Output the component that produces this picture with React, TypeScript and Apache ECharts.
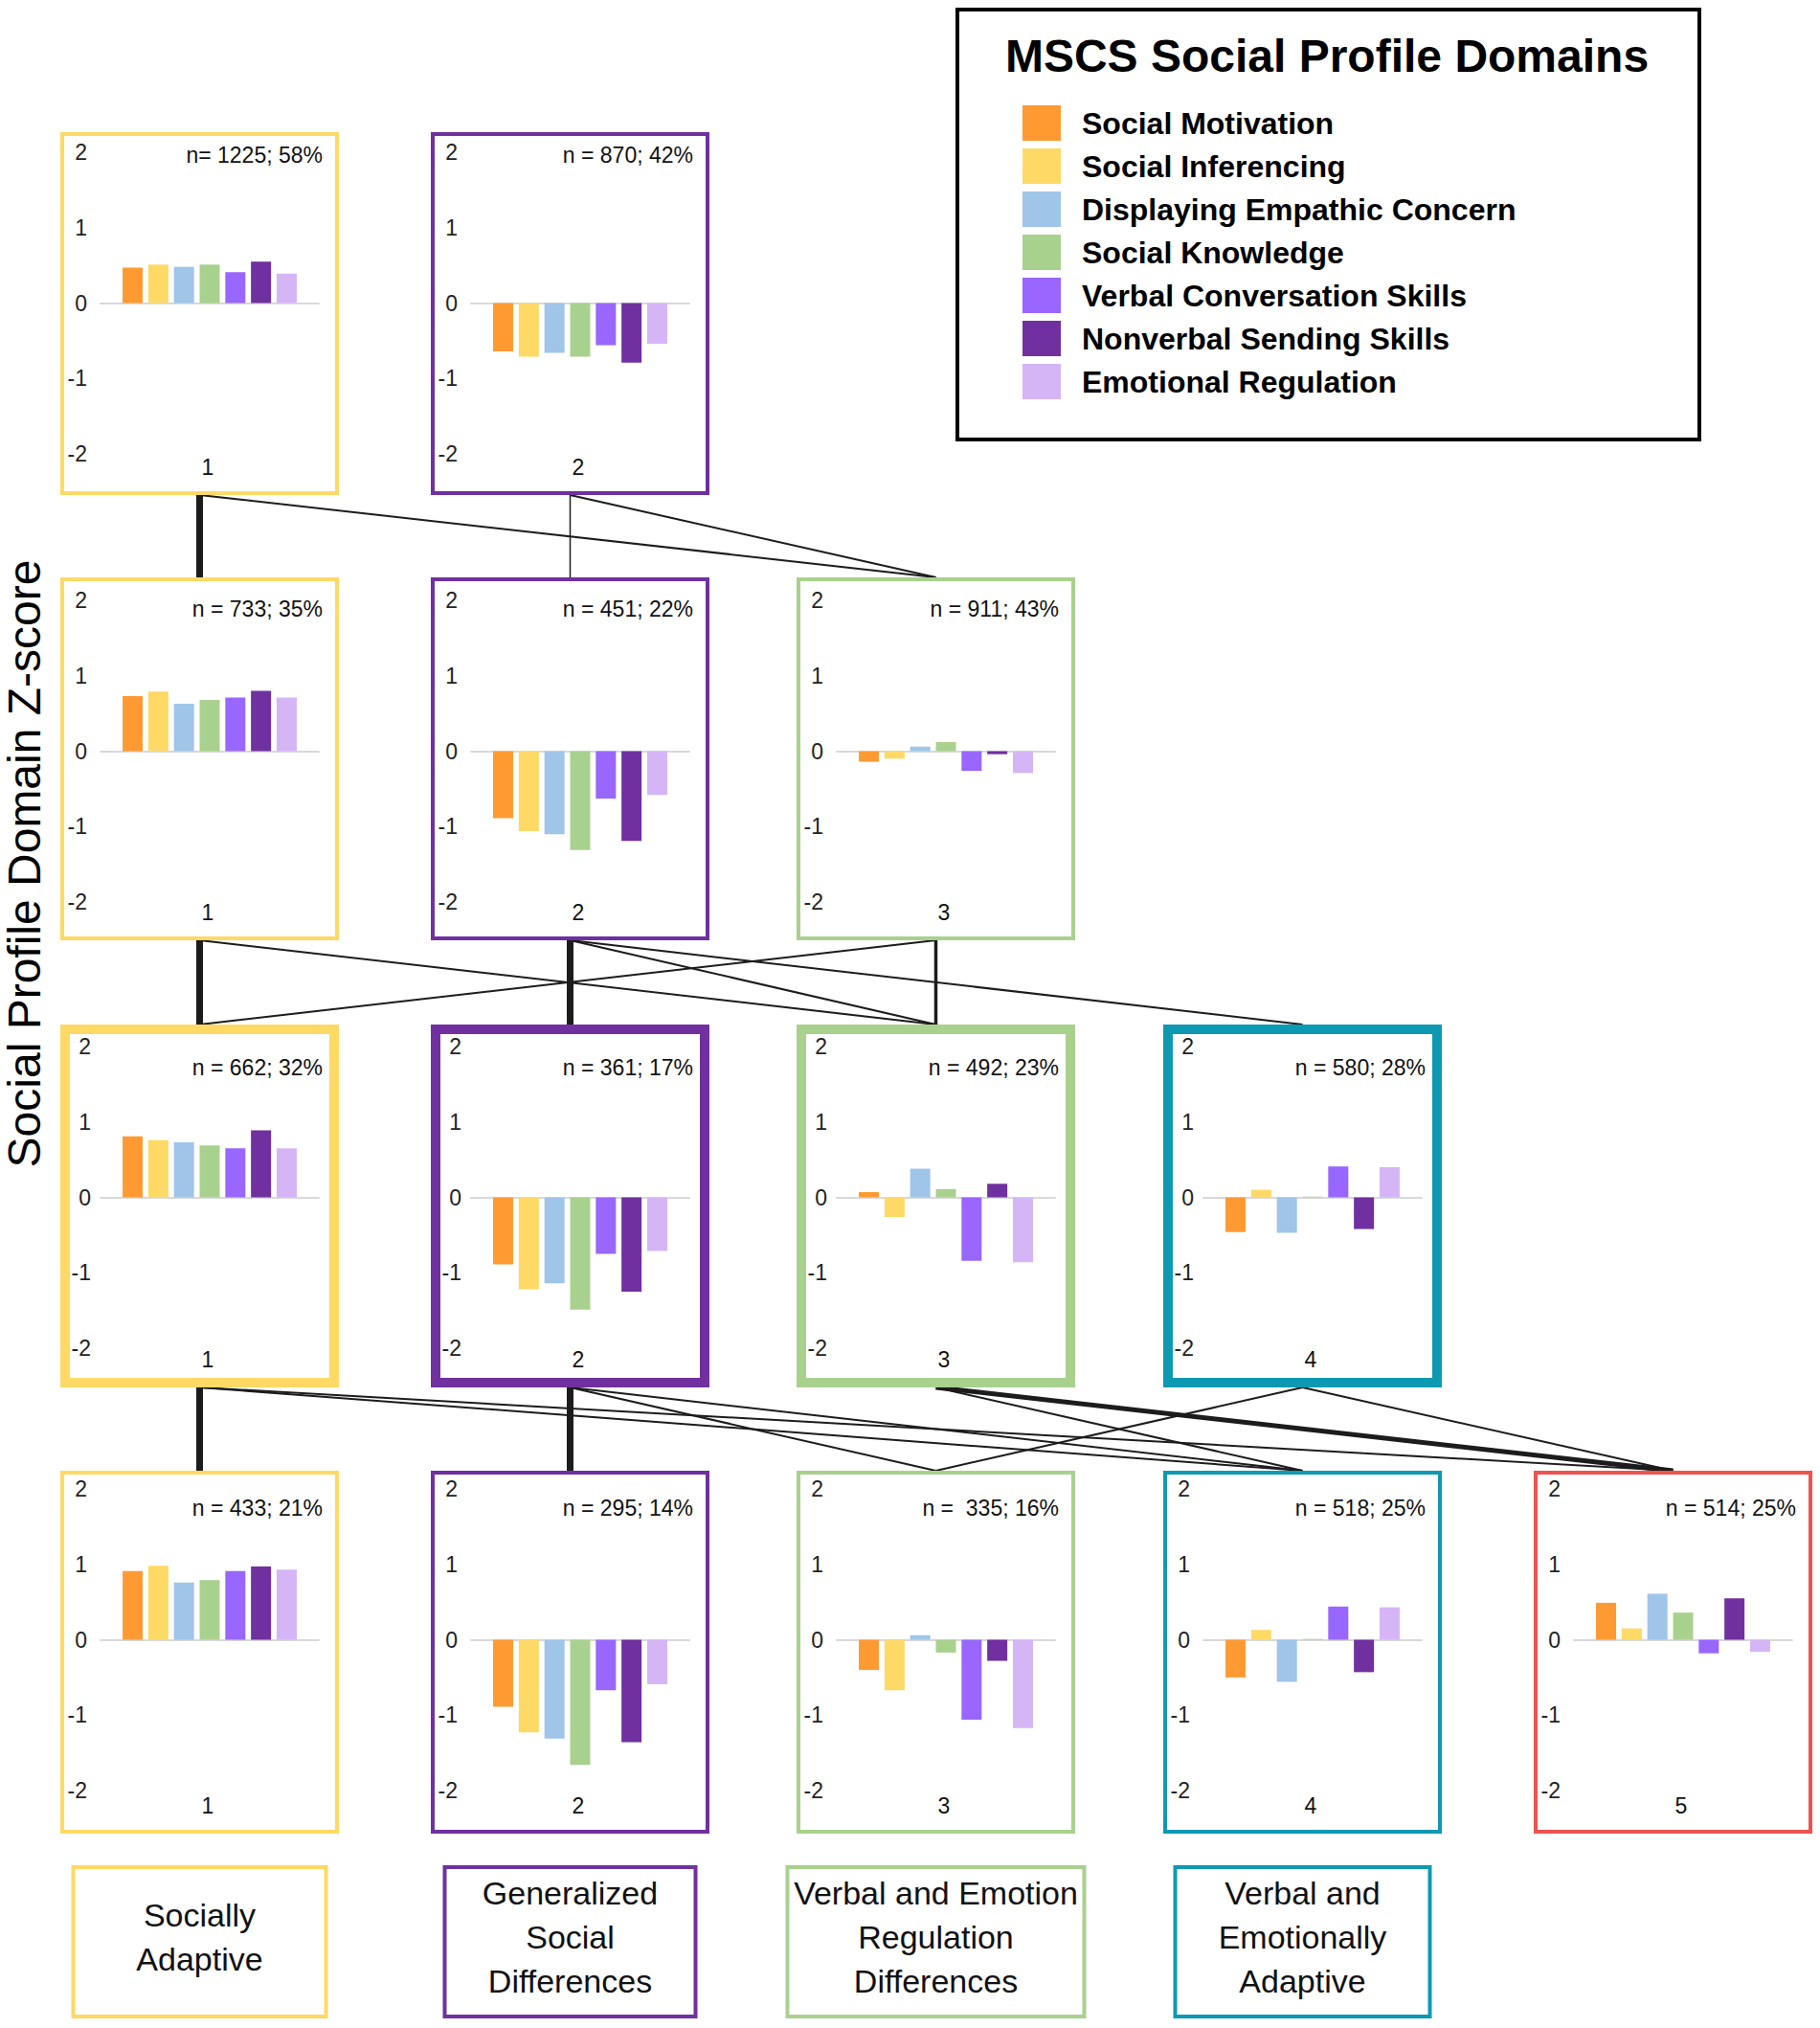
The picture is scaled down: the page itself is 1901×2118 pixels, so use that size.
import React, { useEffect, useRef } from 'react';
import * as echarts from 'echarts';

const FONT = '"Liberation Sans", Arial, Helvetica, sans-serif';

// Domains (series) and their colours
const domains = [
  'Social Motivation',
  'Social Inferencing',
  'Displaying Empathic Concern',
  'Social Knowledge',
  'Verbal Conversation Skills',
  'Nonverbal Sending Skills',
  'Emotional Regulation',
];
const domainColors = ['#FF9A33', '#FFD966', '#9FC5E8', '#A9D18E', '#9966FF', '#7030A0', '#D6B5F7'];
const clusterColors = ['#FFD966', '#7030A0', '#A9D18E', '#0E99B3', '#EF5350'];

// Z-scores per cluster, per solution (2 to 5 classes)
const twoClass1 = [0.47, 0.51, 0.48, 0.51, 0.41, 0.55, 0.39];
const twoClass2 = [-0.64, -0.71, -0.66, -0.71, -0.56, -0.79, -0.54];

const threeClass1 = [0.73, 0.79, 0.63, 0.68, 0.71, 0.8, 0.71];
const threeClass2 = [-0.89, -1.06, -1.1, -1.31, -0.63, -1.19, -0.58];
const threeClass3 = [-0.14, -0.1, 0.06, 0.12, -0.26, -0.04, -0.29];

const fourClass1 = [0.81, 0.76, 0.73, 0.69, 0.65, 0.89, 0.65];
const fourClass2 = [-0.89, -1.22, -1.14, -1.49, -0.75, -1.25, -0.71];
const fourClass3 = [0.07, -0.26, 0.38, 0.11, -0.84, 0.18, -0.86];
const fourClass4 = [-0.46, 0.1, -0.47, 0.01, 0.41, -0.42, 0.4];

const fiveClass1 = [0.91, 0.98, 0.76, 0.79, 0.91, 0.97, 0.93];
const fiveClass2 = [-0.89, -1.23, -1.31, -1.66, -0.67, -1.36, -0.59];
const fiveClass3 = [-0.4, -0.67, 0.06, -0.17, -1.06, -0.28, -1.17];
const fiveClass4 = [-0.5, 0.13, -0.56, 0.01, 0.44, -0.43, 0.43];
const fiveClass5 = [0.49, 0.15, 0.61, 0.36, -0.18, 0.55, -0.16];

const solutions = [
  [twoClass1, twoClass2],
  [threeClass1, threeClass2, threeClass3],
  [fourClass1, fourClass2, fourClass3, fourClass4],
  [fiveClass1, fiveClass2, fiveClass3, fiveClass4, fiveClass5],
];

const twoClassN = ['n= 1225; 58%', 'n = 870; 42%'];
const threeClassN = ['n = 733; 35%', 'n = 451; 22%', 'n = 911; 43%'];
const fourClassN = ['n = 662; 32%', 'n = 361; 17%', 'n = 492; 23%', 'n = 580; 28%'];
const fiveClassN = ['n = 433; 21%', 'n = 295; 14%', 'n =  335; 16%', 'n = 518; 25%', 'n = 514; 25%'];
const sampleLabels = [twoClassN, threeClassN, fourClassN, fiveClassN];

const yTicks = [-2, 2, 1];

// Transitions between solutions: [from solution, from cluster, to cluster, weight]
const transitions = [
  [0, 0, 0, 'heavy'], [0, 0, 2, 'light'], [0, 1, 1, 'faint'], [0, 1, 2, 'light'],
  [1, 0, 0, 'heavy'], [1, 0, 2, 'light'], [1, 1, 1, 'heavy'], [1, 1, 2, 'light'], [1, 1, 3, 'light'],
  [1, 2, 0, 'light'], [1, 2, 2, 'medium'],
  [2, 0, 0, 'heavy'], [2, 0, 3, 'light'], [2, 0, 4, 'light'], [2, 1, 1, 'heavy'], [2, 1, 2, 'light'],
  [2, 1, 3, 'light'], [2, 2, 3, 'light'], [2, 2, 4, 'strong'], [2, 3, 2, 'light'], [2, 3, 4, 'light'],
];

const profileNames = [
  'Socially\nAdaptive',
  'Generalized\nSocial\nDifferences',
  'Verbal and Emotion\nRegulation\nDifferences',
  'Verbal and\nEmotionally\nAdaptive',
];

const legendTitle = 'MSCS Social Profile Domains';
const yAxisTitle = 'Social Profile Domain Z-score';

// ---------- layout (positions / styles) ----------
const COL_X = [63, 450, 832, 1215, 1602];
const ROW_Y = [138, 603, 1070, 1536];
const BOX_W = 291;
const BOX_H = 379;
const ROW_BORDER = [4, 4, 10, 4];
const GRID_TOP_OFF = [21, 24, 23, 19];
const N_LABEL_OFF = [24, 33, 45, 39];
const LABEL_MARGIN = [14, 14, 10, 14];
const LINE_W: Record<string, number> = { heavy: 7, strong: 5, medium: 3.5, light: 2, faint: 1.5 };
const PROFILE_W = [268, 266, 314, 270];

function buildOption() {
  const grid: any[] = [];
  const xAxis: any[] = [];
  const yAxis: any[] = [];
  const series: any[] = [];
  const graphic: any[] = [];
  let gi = 0;

  const centerX = (c: number) => COL_X[c] + BOX_W / 2;

  transitions.forEach(([r, a, b, w]: any) => {
    graphic.push({
      type: 'line',
      z: 1,
      shape: { x1: centerX(a), y1: ROW_Y[r] + BOX_H, x2: centerX(b), y2: ROW_Y[r + 1] },
      style: { stroke: '#1c1c1c', lineWidth: LINE_W[w] },
    });
  });

  solutions.forEach((panels, r) => {
    panels.forEach((vals, c) => {
      const L = COL_X[c];
      const T = ROW_Y[r];
      grid.push({ left: L + 42, top: T + GRID_TOP_OFF[r], width: 228, height: 315 });
      xAxis.push({
        gridIndex: gi,
        type: 'value',
        min: -0.25,
        max: 8.25,
        axisLabel: { show: false },
        axisTick: { show: false },
        splitLine: { show: false },
        axisLine: { show: true, onZero: true, lineStyle: { color: '#d9d9d9', width: 2 } },
      });
      yAxis.push({
        gridIndex: gi,
        type: 'value',
        min: yTicks[0],
        max: yTicks[1],
        interval: yTicks[2],
        axisLine: { show: false, onZero: false },
        axisTick: { show: false },
        splitLine: { show: false },
        axisLabel: { fontSize: 23, color: '#222', fontFamily: FONT, margin: LABEL_MARGIN[r] },
      });
      vals.forEach((v, j) => {
        series.push({
          type: 'bar',
          name: domains[j],
          xAxisIndex: gi,
          yAxisIndex: gi,
          data: [[j + 1, v]],
          barWidth: 21,
          barGap: '-100%',
          itemStyle: { color: domainColors[j] },
          silent: true,
        });
      });
      const bw = ROW_BORDER[r];
      graphic.push({
        type: 'rect',
        z: 10,
        shape: { x: L + bw / 2, y: T + bw / 2, width: BOX_W - bw, height: BOX_H - bw },
        style: { fill: 'rgba(0,0,0,0)', stroke: clusterColors[c], lineWidth: bw },
      });
      graphic.push({
        type: 'text',
        z: 11,
        x: L + 274,
        y: T + N_LABEL_OFF[r],
        style: {
          text: sampleLabels[r][c],
          fontSize: 23,
          fontFamily: FONT,
          fill: '#111',
          align: 'right',
          textAlign: 'right',
          verticalAlign: 'middle',
          textVerticalAlign: 'middle',
        },
      });
      graphic.push({
        type: 'text',
        z: 11,
        x: L + 154,
        y: T + 350,
        style: {
          text: String(c + 1),
          fontSize: 23,
          fontFamily: FONT,
          fill: '#111',
          align: 'center',
          textAlign: 'center',
          verticalAlign: 'middle',
          textVerticalAlign: 'middle',
        },
      });
      gi++;
    });
  });

  // legend box + title
  graphic.push({
    type: 'rect',
    z: 10,
    shape: { x: 1000, y: 10, width: 775, height: 449 },
    style: { fill: 'rgba(0,0,0,0)', stroke: '#000', lineWidth: 4 },
  });
  graphic.push({
    type: 'text',
    z: 11,
    x: 1386,
    y: 58,
    style: {
      text: legendTitle,
      fontSize: 48,
      fontWeight: 'bold',
      fontFamily: FONT,
      fill: '#000',
      align: 'center',
      textAlign: 'center',
      verticalAlign: 'middle',
      textVerticalAlign: 'middle',
    },
  });

  // y axis title
  graphic.push({
    type: 'text',
    z: 11,
    x: 25,
    y: 902,
    rotation: Math.PI / 2,
    style: {
      text: yAxisTitle,
      fontSize: 48,
      fontFamily: FONT,
      fill: '#000',
      align: 'center',
      textAlign: 'center',
      verticalAlign: 'middle',
      textVerticalAlign: 'middle',
    },
  });

  // profile name boxes
  profileNames.forEach((name, c) => {
    const cx = centerX(c);
    const w = PROFILE_W[c];
    graphic.push({
      type: 'rect',
      z: 10,
      shape: { x: cx - w / 2 + 2, y: 1950, width: w - 4, height: 156 },
      style: { fill: 'rgba(0,0,0,0)', stroke: clusterColors[c], lineWidth: 4 },
    });
    graphic.push({
      type: 'text',
      z: 11,
      x: cx,
      y: 2023,
      style: {
        text: name,
        fontSize: 34,
        lineHeight: 46,
        fontFamily: FONT,
        fill: '#111',
        align: 'center',
        textAlign: 'center',
        verticalAlign: 'middle',
        textVerticalAlign: 'middle',
      },
    });
  });

  return {
    animation: false,
    backgroundColor: '#fff',
    legend: {
      orient: 'vertical',
      left: 1063,
      top: 105,
      itemWidth: 40,
      itemHeight: 37,
      itemGap: 8,
      icon: 'rect',
      selectedMode: false,
      data: domains,
      textStyle: { fontSize: 32, fontWeight: 'bold', color: '#000', fontFamily: FONT, padding: [0, 0, 0, 17] },
    },
    grid,
    xAxis,
    yAxis,
    series,
    graphic,
  };
}

export default function App() {
  const ref = useRef<HTMLDivElement>(null);
  useEffect(() => {
    if (!ref.current) return;
    const chart = echarts.init(ref.current, undefined, { renderer: 'svg' });
    chart.setOption(buildOption() as any);
    return () => chart.dispose();
  }, []);
  return (
    <div
      ref={ref}
      style={{ position: 'absolute', left: 0, top: 0, width: 1901, height: 2118, background: '#fff' }}
    />
  );
}
